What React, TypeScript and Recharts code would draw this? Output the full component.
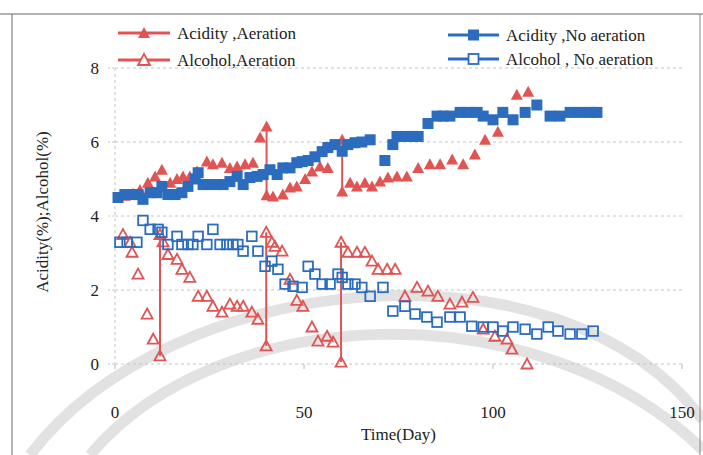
import React from 'react';
import { ScatterChart, Scatter, XAxis, YAxis, CartesianGrid, ReferenceLine, Label } from 'recharts';

const RED = '#e05454';
const BLUE = '#2b6cbf';
const FONT = '"Liberation Serif", "Times New Roman", serif';

const xTicks = [0, 50, 100, 150];
const yTicks = [0, 2, 4, 6, 8];

const seriesNames = ['Acidity ,Aeration', 'Alcohol,Aeration', 'Acidity ,No aeration', 'Alcohol , No aeration'];

// [day, %]
const acidityAeration: number[][] = [
  [2.6, 4.55], [4.8, 4.6], [6.6, 4.7], [8.7, 4.9], [10.6, 5.07], [12.4, 5.25], [14.6, 4.9], [16.4, 5.0],
  [18.0, 5.07], [19.8, 5.07], [21.7, 5.2], [24.3, 5.47], [25.9, 5.4], [28.3, 5.44], [30.4, 5.3], [32.3, 5.34],
  [34.4, 5.4], [36.5, 5.44], [38.4, 6.12], [40.1, 6.42], [40.1, 4.56], [41.8, 4.53], [44.4, 4.58], [46.3, 4.77],
  [48.1, 4.8], [50.3, 5.0], [52.1, 5.2], [54.2, 5.34], [56.3, 5.3], [60.1, 6.06], [60.1, 4.66], [62.2, 4.9],
  [64.0, 4.8], [66.1, 4.9], [68.0, 4.8], [70.1, 4.93], [72.2, 5.04], [74.6, 5.07], [77.2, 5.07], [80.2, 5.3],
  [83.3, 5.4], [86.0, 5.4], [89.2, 5.53], [92.1, 5.4], [95.2, 5.66], [97.9, 6.06], [101.3, 6.28], [106.3, 7.28],
  [109.3, 7.36],
];

const alcoholAeration: number[][] = [
  [2.1, 3.5], [4.0, 3.29], [4.5, 3.02], [6.1, 2.43], [8.5, 1.35], [10.1, 0.67], [11.9, 0.22], [11.9, 3.5],
  [12.7, 3.3], [14.0, 2.96], [16.4, 2.83], [17.7, 2.56], [19.8, 2.34], [22.0, 1.83], [24.3, 1.83], [25.9, 1.56],
  [28.3, 1.4], [30.4, 1.62], [32.3, 1.56], [33.9, 1.56], [36.2, 1.4], [37.8, 1.21], [40.0, 0.49], [40.0, 3.56],
  [41.5, 3.29], [42.3, 3.18], [44.2, 3.05], [46.3, 2.29], [48.1, 1.72], [49.7, 1.56], [52.1, 1.0], [53.7, 0.62],
  [56.1, 0.75], [57.7, 0.59], [59.8, 0.05], [59.8, 3.29], [61.6, 3.02], [64.0, 3.02], [66.1, 3.02], [68.0, 2.78],
  [69.6, 2.56], [72.0, 2.56], [74.1, 2.56], [76.7, 1.83], [79.9, 2.07], [82.8, 1.97], [85.4, 1.83], [88.6, 1.62],
  [91.8, 1.67], [94.7, 1.8], [97.4, 0.94], [100.5, 0.75], [103.7, 0.67], [105.0, 0.4], [109.0, 0.0],
];

const acidityNoAeration: number[][] = [
  [0.8, 4.5], [2.6, 4.58], [4.5, 4.58], [6.1, 4.58], [7.4, 4.45], [9.3, 4.63], [11.1, 4.63], [12.4, 4.8],
  [14.0, 4.58], [15.9, 4.58], [17.7, 4.63], [19.3, 4.8], [21.2, 5.0], [22.0, 5.17], [23.3, 4.85], [25.1, 4.85],
  [27.0, 4.85], [28.6, 4.85], [30.4, 4.93], [32.3, 5.07], [33.9, 4.85], [35.7, 5.04], [37.6, 5.07], [39.2, 5.12],
  [41.0, 5.25], [42.9, 5.12], [44.4, 5.3], [46.3, 5.3], [48.1, 5.44], [49.5, 5.47], [51.1, 5.5], [52.9, 5.6],
  [54.8, 5.74], [56.3, 5.85], [58.2, 5.93], [60.1, 5.75], [61.6, 5.93], [63.5, 5.98], [65.3, 6.0], [67.5, 6.06],
  [71.4, 5.5], [73.5, 5.93], [74.6, 6.15], [76.7, 6.15], [78.6, 6.15], [80.2, 6.15], [82.8, 6.5], [85.2, 6.7],
  [86.8, 6.7], [88.6, 6.7], [91.3, 6.8], [93.4, 6.8], [95.8, 6.8], [97.4, 6.7], [100.0, 6.6], [102.6, 6.8],
  [105.3, 6.6], [108.5, 6.8], [111.6, 7.0], [115.1, 6.7], [117.7, 6.7], [120.4, 6.8], [123.0, 6.8], [125.7, 6.8],
  [127.5, 6.8],
];

const alcoholNoAeration: number[][] = [
  [1.3, 3.29], [3.2, 3.29], [5.8, 3.29], [7.4, 3.88], [9.3, 3.64], [11.4, 3.64], [12.4, 3.56], [14.0, 3.23],
  [16.4, 3.45], [17.7, 3.23], [19.3, 3.23], [20.6, 3.23], [22.0, 3.45], [24.3, 3.23], [25.9, 3.64], [27.8, 3.23],
  [29.6, 3.23], [31.2, 3.23], [32.5, 3.23], [33.9, 3.05], [36.2, 3.45], [37.8, 3.05], [39.7, 2.64], [41.5, 2.78],
  [43.1, 2.56], [45.0, 2.16], [47.1, 2.1], [49.5, 2.07], [51.1, 2.64], [52.9, 2.43], [54.8, 2.16], [56.9, 2.16],
  [59.0, 2.43], [60.1, 2.34], [61.6, 2.16], [63.5, 2.16], [65.3, 2.07], [67.5, 1.83], [70.9, 2.07], [73.5, 1.43],
  [76.7, 1.56], [79.4, 1.35], [82.5, 1.27], [85.2, 1.13], [88.6, 1.27], [91.3, 1.27], [94.4, 1.02], [97.4, 1.0],
  [100.0, 1.0], [102.6, 0.89], [105.3, 1.0], [108.5, 0.94], [111.6, 0.81], [114.6, 1.0], [117.2, 0.89],
  [120.4, 0.81], [123.5, 0.81], [126.5, 0.89],
];

// refill events: [day, before, after]
const acidityRefills: number[][] = [[40.1, 4.56, 6.42], [60.1, 4.66, 6.06]];
const alcoholRefills: number[][] = [[11.9, 0.22, 3.5], [40.0, 0.49, 3.56], [59.8, 0.05, 3.29]];

const toPoints = (pairs: number[][]) => pairs.map(([x, y]) => ({ x, y }));

const FilledTriangle = (p: any) => (
  <path d={`M${p.cx},${p.cy - 6} L${p.cx + 6},${p.cy + 5} L${p.cx - 6},${p.cy + 5} Z`} fill={RED} />
);
const OpenTriangle = (p: any) => (
  <path d={`M${p.cx},${p.cy - 5.5} L${p.cx + 5.5},${p.cy + 4.5} L${p.cx - 5.5},${p.cy + 4.5} Z`} fill="none" stroke={RED} strokeWidth={1.8} />
);
const FilledSquare = (p: any) => <rect x={p.cx - 5.5} y={p.cy - 5.5} width={11} height={11} fill={BLUE} />;
const OpenSquare = (p: any) => (
  <rect x={p.cx - 4.8} y={p.cy - 4.8} width={9.6} height={9.6} fill="none" stroke={BLUE} strokeWidth={1.8} />
);

const XTick = (p: any) => (
  <text x={p.x} y={p.y} dy="0.71em" textAnchor="middle" fontSize={17} fontFamily={FONT} fill="#222">
    {p.payload.value}
  </text>
);

const YLabel = (p: any) => {
  const vb = p.viewBox;
  const cx = vb.x + 42;
  const cy = vb.y + vb.height / 2 - 4;
  return (
    <text x={cx} y={cy} transform={`rotate(-90, ${cx}, ${cy})`} textAnchor="middle" dominantBaseline="central" fontSize={17} fontFamily={FONT} fill="#222">
      Acidity(%);Alcohol(%)
    </text>
  );
};

const LegendItem = ({ x1, x2, y, color, marker, label }: any) => {
  const mx = (x1 + x2) / 2;
  let m: any = null;
  if (marker === 'ft') m = <FilledTriangle cx={mx} cy={y} />;
  if (marker === 'ot') m = <path d={`M${mx},${y - 6} L${mx + 6},${y + 5} L${mx - 6},${y + 5} Z`} fill="#fff" stroke={RED} strokeWidth={1.8} />;
  if (marker === 'fs') m = <FilledSquare cx={mx} cy={y} />;
  if (marker === 'os') m = <rect x={mx - 5} y={y - 5} width={10} height={10} fill="#fff" stroke={BLUE} strokeWidth={1.8} />;
  return (
    <g>
      <line x1={x1} x2={x2} y1={y} y2={y} stroke={color} strokeWidth={3} />
      {m}
      <text x={x2 + 7} y={y} dy="0.33em" fontSize={17} fontFamily={FONT} fill="#222">{label}</text>
    </g>
  );
};

export default function App() {
  return (
    <div style={{ position: 'absolute', left: 0, top: 0, width: 703, height: 455, background: '#fff', overflow: 'hidden' }}>
      <svg width={703} height={455} style={{ position: 'absolute', left: 0, top: 0 }}>
        <path d="M 30 455 C 170 270, 560 230, 703 420" fill="none" stroke="#e2e2e2" strokeWidth={11} />
        <path d="M 90 455 C 220 300, 540 290, 703 450" fill="none" stroke="#e2e2e2" strokeWidth={11} />
        <line x1={0} x2={703} y1={14} y2={14} stroke="#666" strokeWidth={1} />
        <line x1={12} x2={12} y1={14} y2={455} stroke="#666" strokeWidth={1} />
        <line x1={700} x2={700} y1={14} y2={455} stroke="#888" strokeWidth={1} />
      </svg>
      <div style={{ position: 'absolute', left: 0, top: 0 }}>
        <ScatterChart width={703} height={455} margin={{ top: 68, right: 21, bottom: 0, left: 0 }}>
          <CartesianGrid vertical={false} stroke="#c4c4c4" strokeDasharray="3 3" />
          <XAxis
            type="number"
            dataKey="x"
            domain={[0, 150]}
            ticks={xTicks}
            height={91}
            axisLine={false}
            tickLine={{ stroke: '#bbb' }}
            tickSize={5}
            tickMargin={37}
            tick={<XTick />}
            interval={0}
          >
            <Label value="Time(Day)" position="insideBottom" offset={15} fontSize={17} fontFamily={FONT} fill="#222" />
          </XAxis>
          <YAxis
            type="number"
            dataKey="y"
            domain={[0, 8]}
            ticks={yTicks}
            width={115}
            axisLine={{ stroke: '#c4c4c4', strokeDasharray: '3 3' }}
            tickLine={{ stroke: '#c4c4c4', strokeDasharray: '2 2' }}
            tickSize={7}
            tickMargin={9}
            tick={{ fontSize: 17, fontFamily: FONT, fill: '#222' }}
            interval={0}
          >
            <Label content={<YLabel />} />
          </YAxis>
          {acidityRefills.map(([d, a, b], i) => (
            <ReferenceLine key={'ar' + i} segment={[{ x: d, y: a }, { x: d, y: b }]} stroke={RED} strokeWidth={2} />
          ))}
          {alcoholRefills.map(([d, a, b], i) => (
            <ReferenceLine key={'lr' + i} segment={[{ x: d, y: a }, { x: d, y: b }]} stroke={RED} strokeWidth={2} />
          ))}
          <Scatter name={seriesNames[1]} data={toPoints(alcoholAeration)} shape={<OpenTriangle />} isAnimationActive={false} />
          <Scatter name={seriesNames[3]} data={toPoints(alcoholNoAeration)} shape={<OpenSquare />} isAnimationActive={false} />
          <Scatter name={seriesNames[0]} data={toPoints(acidityAeration)} shape={<FilledTriangle />} isAnimationActive={false} />
          <Scatter name={seriesNames[2]} data={toPoints(acidityNoAeration)} shape={<FilledSquare />} isAnimationActive={false} />
        </ScatterChart>
      </div>
      <svg width={703} height={80} style={{ position: 'absolute', left: 0, top: 0 }}>
        <LegendItem x1={118} x2={170} y={33} color={RED} marker="ft" label={seriesNames[0]} />
        <LegendItem x1={118} x2={170} y={60} color={RED} marker="ot" label={seriesNames[1]} />
        <LegendItem x1={448} x2={499} y={35} color={BLUE} marker="fs" label={seriesNames[2]} />
        <LegendItem x1={448} x2={499} y={59} color={BLUE} marker="os" label={seriesNames[3]} />
      </svg>
    </div>
  );
}
